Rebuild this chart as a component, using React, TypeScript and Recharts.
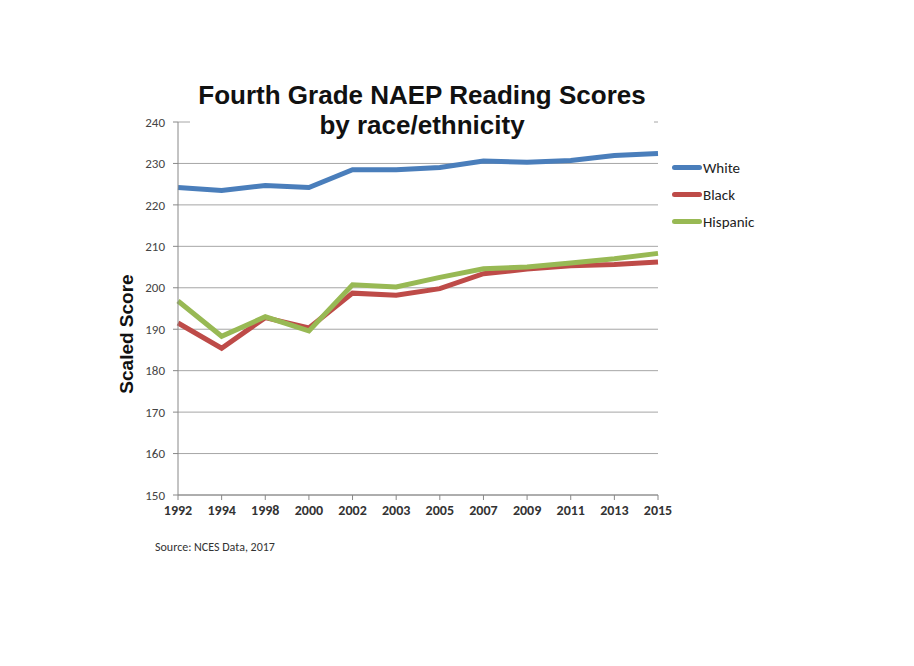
import { LineChart, Line, XAxis, YAxis, CartesianGrid } from "recharts";

const years = ["1992", "1994", "1998", "2000", "2002", "2003", "2005", "2007", "2009", "2011", "2013", "2015"];
const white = [224.2, 223.5, 224.7, 224.2, 228.5, 228.5, 229, 230.6, 230.3, 230.7, 231.9, 232.4];
const black = [191.5, 185.4, 192.8, 190.3, 198.7, 198.2, 199.8, 203.4, 204.5, 205.3, 205.6, 206.2];
const hispanic = [196.8, 188.3, 193, 189.6, 200.7, 200.2, 202.5, 204.6, 205, 206, 207, 208.3];
const yTicks = [150, 160, 170, 180, 190, 200, 210, 220, 230, 240];

const series = [
  { key: "White", color: "#4a7ebb" },
  { key: "Black", color: "#be4b48" },
  { key: "Hispanic", color: "#98b954" },
];

const data = years.map((y, i) => ({
  year: y,
  White: white[i],
  Black: black[i],
  Hispanic: hispanic[i],
}));

const font = "Carlito, 'Open Sans', 'Liberation Sans', sans-serif";
const boldFont = "'Liberation Sans', Arial, sans-serif";

export default function App() {
  return (
    <div style={{ position: "relative", width: 900, height: 650, background: "#fff" }}>
      <LineChart
        width={900}
        height={650}
        data={data}
        margin={{ top: 114, right: 250, bottom: 133, left: 120 }}
      >
        <CartesianGrid vertical={false} stroke="#a6a6a6" />
        <XAxis
          dataKey="year"
          stroke="#888"
          tickSize={5}
          tickMargin={5}
          height={30}
          interval={0}
          tick={{ fill: "#333", fontSize: 14, fontWeight: 600, fontFamily: font }}
        />
        <YAxis
          domain={[150, 240]}
          ticks={yTicks}
          width={50}
          stroke="#888"
          tickSize={5}
          tickMargin={8}
          tick={{ fill: "#444", fontSize: 13, fontFamily: font }}
        />
        {series.map((s) => (
          <Line
            key={s.key}
            dataKey={s.key}
            stroke={s.color}
            strokeWidth={5}
            dot={false}
            activeDot={false}
            isAnimationActive={false}
          />
        ))}
      </LineChart>
      {/* legend */}
      <div style={{ position: "absolute", left: 664, top: 146, fontFamily: font, fontSize: 15, color: "#222" }}>
        {series.map((s) => (
          <div key={s.key} style={{ display: "flex", alignItems: "center", height: 27 }}>
            <span style={{ width: 30, height: 5, borderRadius: 3, background: s.color, marginRight: 1 }} />
            {s.key}
          </div>
        ))}
      </div>
      <div
        style={{
          position: "absolute",
          left: 182,
          top: 72,
          width: 464,
          background: "#fff",
          textAlign: "center",
          fontFamily: boldFont,
          fontWeight: 700,
          fontSize: 26,
          lineHeight: "30px",
          color: "#111",
        }}
      >
        Fourth Grade NAEP Reading Scores
        <br />
        by race/ethnicity
      </div>
      <div
        style={{
          position: "absolute",
          left: 19,
          top: 316,
          width: 200,
          transform: "rotate(-90deg)",
          transformOrigin: "center",
          textAlign: "center",
          fontFamily: boldFont,
          fontWeight: 700,
          fontSize: 19,
          lineHeight: "20px",
          color: "#111",
        }}
      >
        Scaled Score
      </div>
      <div
        style={{
          position: "absolute",
          left: 147,
          top: 532,
          fontFamily: font,
          fontSize: 12,
          color: "#333",
        }}
      >
        Source: NCES Data, 2017
      </div>
    </div>
  );
}
